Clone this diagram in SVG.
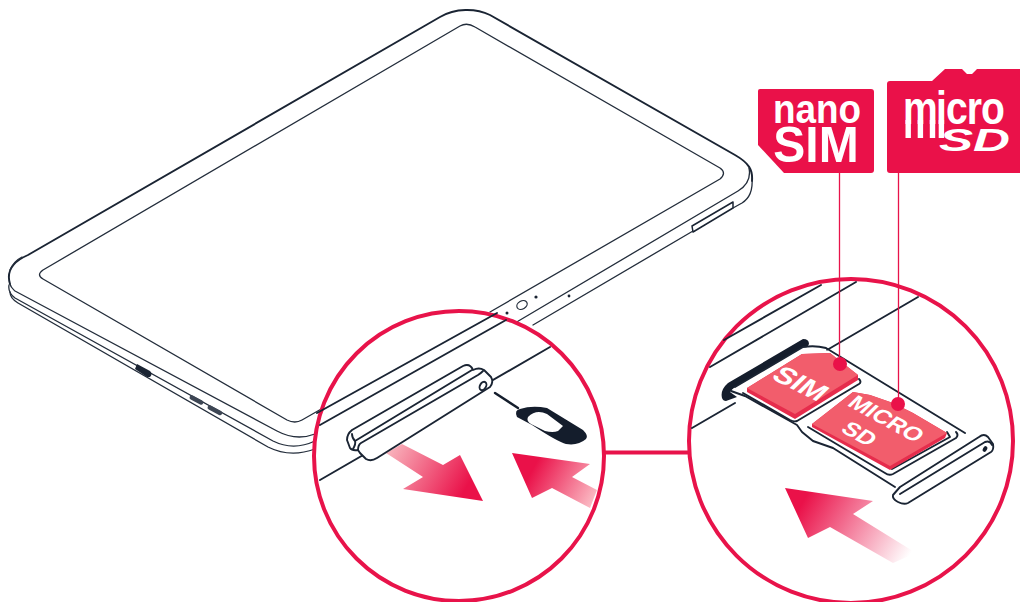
<svg xmlns="http://www.w3.org/2000/svg" width="1020" height="602" viewBox="0 0 1020 602">
<style>
.l{fill:none;stroke:#232d3b;stroke-width:1.3;stroke-linecap:round;stroke-linejoin:round}
.m{fill:none;stroke:#1a2433;stroke-width:1.9;stroke-linecap:round;stroke-linejoin:round}
.c{fill:#fff;stroke:#e8134a;stroke-width:4}
.w{fill:#fff;stroke:#1a2433;stroke-width:1.9;stroke-linejoin:round}
.r{fill:#ea1149}
.t{font-family:"Liberation Sans",Arial,sans-serif;font-weight:700;fill:#fff}
.x{stroke:#e8134a;stroke-width:1.3;fill:none}
</style>
<defs>
<linearGradient id="a1" gradientUnits="userSpaceOnUse" x1="392" y1="448" x2="465" y2="490"><stop offset="0" stop-color="#f8b0ba"/><stop offset="1" stop-color="#ea1149"/></linearGradient>
<linearGradient id="a2" gradientUnits="userSpaceOnUse" x1="596" y1="498" x2="535" y2="465"><stop offset="0" stop-color="#fbbcc5"/><stop offset="1" stop-color="#ea1149"/></linearGradient>
<linearGradient id="a3" gradientUnits="userSpaceOnUse" x1="908" y1="558" x2="805" y2="498"><stop offset="0" stop-color="#fff"/><stop offset="1" stop-color="#ea1149"/></linearGradient>
</defs>

<g id="tablet">
<path class="m" d="M10,284C6,271 12,262 28,255L440,17C455,8 476,8 490,15L735,155C749,163 753,170 752,181"/>
<path class="l" d="M10,284C11,288 13,289 15,291L277,431C290,438 302,439 315,434"/>
<path class="l" d="M9,285C8,291 11,295 15,298L273,441C285,447 300,448 315,441"/>
<path class="l" d="M10,292C10,297 13,300 18,303L268,447C280,453 296,456 315,449"/>
<path class="l" d="M10,270C13,263 16,260 22,257"/>
<path class="l" d="M43,279L287,420Q295,424 302,420L330,404M43,279Q36,275 43,270L460,26Q467,22 475,27L720,168Q727,173 720,179L490,312"/>
<path class="l" d="M515,323L738,191C748,185 751,178 749,168"/>
<path class="l" d="M533,325L693,231"/>
<path class="l" d="M733,208L742,203C750,198 753,190 752,178"/>
<path class="w" style="stroke-width:1.500" d="M692,226L733,202L733,208L693,232Z"/>
<g fill="#1a2433">
<path d="M137,364L150,371Q153,374 150,377L147,377L135,369Z"/>
<circle cx="507" cy="313" r="1.5"/><circle cx="536" cy="297" r="1.6"/><circle cx="569" cy="296" r="1.4"/>
</g>
<ellipse class="l" cx="522" cy="305" rx="5.500" ry="4" transform="rotate(-30 522 305)"/>
<rect x="189" y="398" width="15" height="4.500" rx="2.200" fill="#3d4654" transform="rotate(28 197 400)"/>
<rect x="207" y="408" width="16" height="4.500" rx="2.200" fill="#3d4654" transform="rotate(28 215 410)"/>
</g>

<g id="left-inset">
<circle class="c" cx="459" cy="456" r="145"/>
<path class="m" d="M317,413L497,313M320,425L506,320M320,480L550,347"/>
<path fill="url(#a1)" d="M386,453L402,444L443,465L460,455L483,501L403,489L423,477Z"/>
<path fill="url(#a2)" d="M512,453L590,464L572,477L597,490L590,508L552,488L532,498Z"/>
<path class="w" d="M347,440Q347,434 352,430L463,366Q470,363 473,370Q479,367 484,370L491,377Q494,382 490,387L377,458Q371,462 366,459L360,453L358,450Q352,451 350,448Z"/>
<path class="m" d="M352,434Q352,438 355,441L472,370M355,441Q356,444 353,449M358,450Q358,445 361,443L478,375Q481,373 483,371"/>
<ellipse class="m" cx="483" cy="386" rx="3" ry="4.500" transform="rotate(30 483 386)"/>
<path d="M495,393L518,408" stroke="#141d2c" stroke-width="2.400" stroke-linecap="round" fill="none"/>
<path fill="#141d2c" fill-rule="evenodd" d="M517,417Q514,410 520,409Q532,405 547,408L583,430Q589,436 586,439Q578,446 566,444Q558,442 532,425ZM528,417Q526,421 531,424L545,431Q553,433 558,431L563,426L547,414Q536,409 528,417Z"/>
</g>

<g id="right-inset">
<circle class="c" cx="851" cy="441" r="162"/>
<path class="m" d="M724,340L821,285M710,367L856,282M692,428L735,403M827,350L918,297"/>
<path fill="#141d2c" d="M722,398Q720,390 728,383L803,339Q809,339 809,344Q808,347 805,348L736,387Q731,390 730,392L737,397L726,401Q723,401 722,398Z"/>
<path class="w" style="stroke:none" d="M731,391L735,387L803,347L830,351L965,433L893,486L833,449L813,442L802,432L797,425L745,396Z"/>
<path class="m" d="M735,387L803,347Q815,345 826,348L965,433"/>
<path class="m" d="M731,391L745,396L797,425L802,432L813,441L833,448L895,487"/>
<path class="m" d="M743,393L790,420Q794,422 797,421L859,384Q862,382 859,379"/>
<path class="m" d="M808,427L885,473Q889,476 893,474L956,438Q959,435 956,432"/>
<path class="m" d="M892,469L950,437L947,432"/>
<path fill="#e62c4c" d="M747,388L802,354L830,353L858,375L858,380L795,419L747,392Z"/>
<path fill="#f25d6c" d="M747,388L802,354L830,353L858,375L795,414Z"/>
<path fill="#e62c4c" d="M812,424L853,392L870,395L893,403L913,413L947,433L945,438L890,470L812,427Z"/>
<path fill="#f25d6c" d="M812,424L853,392L870,395L893,403L913,413L947,433L890,466Z"/>
<text class="t" font-size="27" text-anchor="middle" transform="matrix(1 .5 -.72 .7 794 390)">SIM</text>
<text class="t" font-size="22" text-anchor="middle" transform="matrix(.95 .52 -.72 .7 881 424)">MICRO</text>
<text class="t" font-size="22" text-anchor="middle" transform="matrix(.95 .52 -.72 .7 854 439)">SD</text>
<path class="w" d="M893,495L900,487L979,437Q984,433 988,437L993,444Q994,450 991,452L908,503Q904,505 898,502Q892,499 893,495Z"/>
<path class="m" d="M900,494L985,442Q990,440 992,445"/>
<ellipse cx="985" cy="449" rx="2" ry="3" fill="#141d2c" transform="rotate(30 985 449)"/>
<path fill="url(#a3)" d="M785,488L873,501L853,514L916,553L893,563L830,527L808,538Z"/>
</g>

<g id="connectors">
<path d="M604,452.500H688" stroke="#e8134a" stroke-width="4" fill="none"/>
<path class="x" d="M839.500,172V364M898.500,172V404"/>
<circle class="r" cx="840" cy="364" r="7"/>
<circle class="r" cx="898" cy="404" r="7"/>
</g>

<g id="nano-sim">
<path class="r" d="M760,89H871Q874,89 874,92V170Q874,173 871,173H784L758,145V91Q758,89 760,89Z"/>
<text class="t" font-size="41" text-anchor="middle" transform="translate(817 123) scale(.9 1)">nano</text>
<text class="t" font-size="50" text-anchor="middle" transform="translate(816 162) scale(.96 1)">SIM</text>
</g>

<g id="micro-sd">
<path class="r" d="M890,81H932L945,69H962L967,74H972L977,69H1020V173H890Q887,173 887,170V84Q887,81 890,81Z"/>
<text class="t" font-size="46" transform="translate(903 124) scale(.85 1)" x="0 38.800 50.600 75 91.800">micro</text>
<path fill="#fff" d="M905.500,120h5.400v18h-5.400zM917.700,120h5.400v18h-5.400zM929.800,120h5.400v18h-5.400zM938.700,120h5.400v18h-5.400z"/>
<text class="t" font-size="31" font-style="italic" transform="translate(939 151) scale(1.650 1)">SD</text>
</g>
</svg>
